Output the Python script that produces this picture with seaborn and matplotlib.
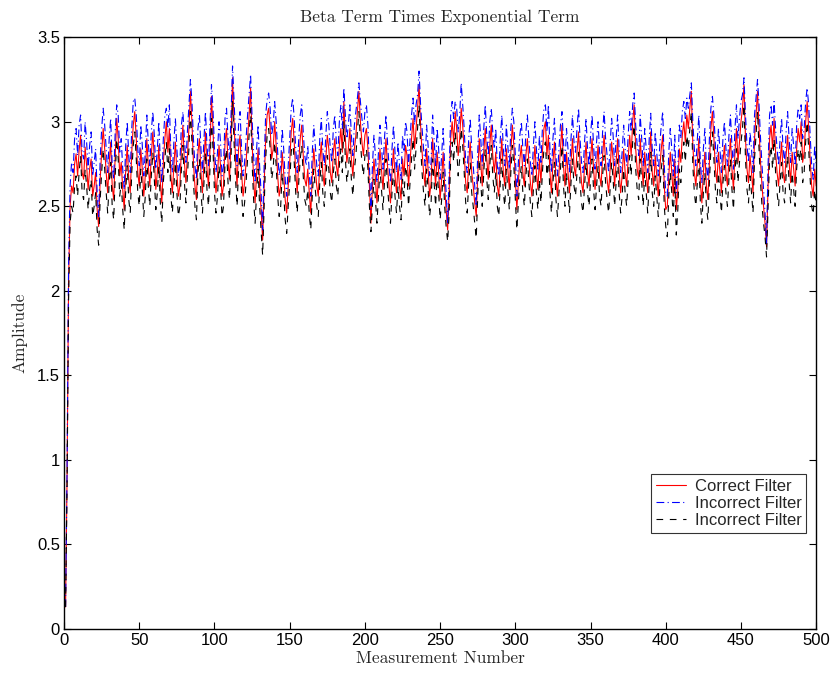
import numpy as np
import pandas as pd
import matplotlib
matplotlib.use("Agg")
import matplotlib.pyplot as plt
import seaborn as sns

# Valores (em centésimos), medição 1..500
correct_filter = [
    13, 90, 205, 250, 262, 258, 275, 281, 268, 283, 292, 270, 266, 285, 274, 260, 272, 278, 256, 262,
    270, 248, 238, 266, 282, 296, 284, 270, 258, 276, 288, 262, 254, 280, 302, 290, 268, 276, 260, 248,
    272, 286, 266, 258, 282, 298, 306, 290, 270, 262, 284, 272, 256, 268, 290, 274, 262, 280, 294, 278,
    260, 270, 286, 264, 252, 276, 290, 300, 282, 296, 268, 258, 274, 288, 270, 256, 262, 284, 298, 276,
    264, 280, 296, 318, 300, 276, 262, 254, 282, 290, 270, 258, 276, 294, 272, 262, 284, 315, 296, 270,
    258, 268, 286, 274, 256, 262, 288, 296, 276, 266, 290, 326, 300, 278, 262, 284, 292, 270, 256, 264,
    276, 290, 304, 320, 288, 266, 252, 270, 284, 262, 248, 230, 262, 290, 304, 308, 296, 278, 284, 300,
    286, 268, 256, 262, 282, 270, 254, 246, 262, 276, 294, 302, 288, 270, 258, 276, 290, 298, 280, 266,
    262, 272, 258, 246, 268, 284, 272, 262, 256, 276, 288, 270, 262, 278, 292, 284, 270, 264, 282, 290,
    274, 268, 286, 296, 282, 312, 290, 276, 284, 296, 278, 268, 284, 292, 306, 318, 300, 288, 280, 292,
    296, 284, 262, 240, 262, 278, 266, 252, 268, 284, 272, 260, 276, 290, 274, 262, 252, 270, 284, 268,
    258, 274, 262, 254, 278, 268, 286, 280, 262, 276, 290, 302, 284, 296, 308, 322, 298, 282, 270, 262,
    284, 272, 256, 264, 290, 276, 262, 282, 270, 254, 266, 282, 262, 248, 236, 258, 290, 300, 288, 306,
    296, 280, 290, 308, 298, 282, 264, 258, 276, 288, 270, 262, 252, 244, 268, 290, 276, 262, 282, 296,
    278, 266, 286, 298, 280, 270, 282, 262, 256, 276, 290, 270, 262, 284, 272, 260, 282, 298, 286, 266,
    248, 264, 278, 286, 270, 262, 280, 290, 276, 264, 256, 272, 286, 270, 260, 278, 264, 282, 296, 300,
    280, 292, 270, 258, 276, 288, 266, 256, 270, 284, 298, 274, 262, 282, 270, 258, 276, 290, 274, 268,
    282, 294, 276, 264, 258, 274, 288, 270, 262, 278, 290, 272, 260, 274, 286, 268, 262, 280, 292, 276,
    266, 258, 272, 288, 278, 262, 276, 290, 270, 258, 268, 284, 270, 262, 278, 292, 280, 300, 310, 284,
    272, 266, 290, 276, 262, 282, 270, 258, 276, 294, 270, 262, 280, 268, 256, 272, 284, 292, 262, 248,
    250, 268, 282, 270, 256, 278, 248, 260, 284, 276, 292, 300, 288, 304, 296, 308, 318, 286, 270, 262,
    276, 290, 264, 252, 270, 282, 262, 254, 276, 296, 306, 290, 272, 264, 282, 270, 258, 276, 286, 270,
    262, 278, 290, 272, 260, 282, 296, 276, 288, 300, 308, 322, 290, 272, 264, 280, 270, 258, 290, 304,
    318, 296, 276, 262, 250, 240, 226, 262, 290, 298, 284, 302, 282, 270, 262, 276, 288, 270, 264, 280,
    292, 276, 264, 282, 272, 262, 284, 296, 288, 300, 276, 282, 300, 312, 296, 278, 262, 256, 272, 262,
]

incorrect_blue = [
    13, 95, 215, 262, 276, 270, 290, 296, 280, 298, 304, 282, 278, 300, 288, 272, 286, 294, 268, 276,
    284, 258, 244, 278, 296, 308, 298, 284, 270, 290, 302, 274, 266, 294, 310, 304, 282, 290, 272, 260,
    286, 300, 280, 270, 296, 312, 314, 304, 284, 274, 298, 286, 268, 282, 304, 288, 274, 294, 306, 292,
    272, 284, 300, 276, 264, 290, 304, 308, 296, 310, 282, 270, 288, 302, 284, 268, 276, 298, 306, 290,
    276, 294, 310, 325, 312, 290, 274, 266, 296, 304, 284, 270, 290, 306, 286, 274, 298, 322, 308, 284,
    270, 282, 300, 288, 268, 274, 302, 308, 290, 278, 304, 333, 312, 292, 274, 298, 306, 284, 268, 276,
    290, 304, 316, 328, 302, 280, 264, 284, 298, 274, 258, 236, 274, 304, 313, 317, 308, 292, 298, 312,
    300, 282, 268, 274, 296, 284, 266, 256, 274, 290, 308, 314, 302, 284, 270, 290, 304, 310, 294, 280,
    274, 286, 270, 256, 282, 298, 286, 274, 268, 290, 302, 284, 274, 292, 306, 298, 284, 276, 296, 304,
    288, 280, 300, 310, 296, 320, 304, 290, 298, 310, 292, 280, 298, 306, 314, 323, 312, 302, 294, 306,
    310, 298, 274, 248, 274, 292, 280, 264, 282, 298, 286, 272, 290, 304, 288, 274, 264, 284, 298, 282,
    270, 288, 274, 266, 292, 282, 300, 294, 274, 290, 304, 314, 298, 310, 316, 330, 310, 296, 284, 274,
    298, 286, 268, 276, 304, 290, 274, 296, 284, 266, 280, 296, 274, 258, 240, 270, 304, 312, 302, 312,
    308, 294, 304, 323, 310, 296, 276, 270, 290, 302, 284, 274, 262, 250, 282, 304, 290, 274, 296, 310,
    292, 280, 300, 308, 294, 284, 296, 274, 268, 290, 304, 284, 274, 298, 286, 272, 296, 308, 300, 280,
    256, 276, 292, 300, 284, 274, 294, 304, 290, 276, 268, 286, 300, 284, 272, 292, 276, 296, 308, 310,
    294, 310, 284, 270, 290, 302, 280, 268, 284, 298, 306, 288, 274, 296, 284, 270, 290, 304, 288, 282,
    296, 308, 290, 276, 270, 288, 302, 284, 274, 292, 304, 286, 272, 288, 300, 282, 274, 294, 306, 290,
    280, 270, 286, 302, 292, 274, 290, 304, 284, 270, 282, 298, 284, 274, 292, 306, 294, 310, 317, 298,
    286, 280, 304, 290, 274, 296, 284, 270, 290, 305, 284, 274, 294, 282, 268, 286, 298, 306, 274, 258,
    256, 282, 296, 284, 268, 292, 258, 272, 298, 290, 306, 312, 302, 314, 308, 316, 323, 300, 284, 274,
    290, 304, 276, 264, 284, 296, 274, 266, 290, 308, 315, 304, 286, 276, 296, 284, 270, 290, 300, 284,
    274, 292, 304, 286, 272, 296, 310, 290, 302, 312, 316, 326, 304, 286, 276, 294, 284, 270, 304, 314,
    325, 310, 290, 274, 260, 246, 228, 274, 304, 310, 298, 312, 296, 284, 274, 290, 302, 284, 276, 294,
    306, 290, 276, 296, 286, 274, 298, 308, 302, 310, 290, 296, 312, 320, 310, 292, 274, 266, 286, 274,
]

incorrect_black = [
    13, 85, 195, 240, 250, 246, 262, 268, 256, 270, 280, 258, 254, 272, 262, 248, 260, 266, 244, 250,
    258, 236, 227, 254, 270, 284, 272, 258, 246, 264, 276, 250, 242, 268, 290, 278, 256, 264, 248, 236,
    260, 274, 254, 246, 270, 286, 294, 278, 258, 250, 272, 260, 244, 256, 278, 262, 250, 268, 282, 266,
    248, 258, 274, 252, 240, 264, 278, 288, 270, 284, 256, 246, 262, 276, 258, 244, 250, 272, 286, 264,
    252, 268, 284, 306, 288, 264, 250, 242, 270, 278, 258, 246, 264, 282, 260, 250, 272, 302, 284, 258,
    246, 256, 274, 262, 244, 250, 276, 284, 264, 254, 278, 312, 288, 266, 250, 272, 280, 258, 244, 252,
    264, 278, 292, 308, 276, 254, 240, 258, 272, 250, 236, 221, 250, 278, 292, 296, 284, 266, 272, 288,
    274, 256, 244, 250, 270, 258, 242, 234, 250, 264, 282, 290, 276, 258, 246, 264, 278, 286, 268, 254,
    250, 260, 246, 236, 256, 272, 260, 250, 244, 264, 276, 258, 250, 266, 280, 272, 258, 252, 270, 278,
    262, 256, 274, 284, 270, 300, 278, 264, 272, 284, 266, 256, 272, 280, 294, 306, 288, 276, 268, 280,
    284, 272, 250, 235, 250, 266, 254, 240, 256, 272, 260, 248, 264, 278, 262, 250, 240, 258, 272, 256,
    246, 262, 250, 242, 266, 256, 274, 268, 250, 264, 278, 290, 272, 284, 296, 310, 286, 270, 258, 250,
    272, 260, 244, 252, 278, 264, 250, 270, 258, 242, 254, 270, 250, 238, 229, 246, 278, 288, 276, 294,
    284, 268, 278, 296, 286, 270, 252, 246, 264, 276, 258, 250, 240, 231, 256, 278, 264, 250, 270, 284,
    266, 254, 274, 286, 268, 258, 270, 250, 244, 264, 278, 258, 250, 272, 260, 248, 270, 286, 274, 254,
    236, 252, 266, 274, 258, 250, 268, 278, 264, 252, 244, 260, 274, 258, 248, 266, 252, 270, 284, 288,
    268, 280, 258, 246, 264, 276, 254, 244, 258, 272, 286, 262, 250, 270, 258, 246, 264, 278, 262, 256,
    270, 282, 264, 252, 246, 262, 276, 258, 250, 266, 278, 260, 248, 262, 274, 256, 250, 268, 280, 264,
    254, 246, 260, 276, 266, 250, 264, 278, 258, 246, 256, 272, 258, 250, 266, 280, 268, 288, 298, 272,
    260, 254, 278, 264, 250, 270, 258, 246, 264, 282, 258, 250, 268, 256, 244, 260, 272, 280, 250, 238,
    232, 256, 270, 258, 244, 266, 233, 248, 272, 264, 280, 288, 276, 292, 284, 296, 306, 274, 258, 250,
    264, 278, 252, 240, 258, 270, 250, 242, 264, 284, 294, 278, 260, 252, 270, 258, 246, 264, 274, 258,
    250, 266, 278, 260, 248, 270, 284, 264, 276, 288, 296, 310, 278, 260, 252, 268, 258, 246, 278, 292,
    306, 284, 264, 250, 240, 232, 220, 250, 278, 286, 272, 290, 270, 258, 250, 264, 276, 258, 252, 268,
    280, 264, 252, 270, 260, 250, 272, 284, 276, 288, 264, 270, 288, 300, 284, 266, 250, 245, 260, 250,
]

labels = ["Correct Filter", "Incorrect Filter", "Incorrect Filter"]
x_ticks = [0, 50, 100, 150, 200, 250, 300, 350, 400, 450, 500]
y_ticks = [0, 0.5, 1, 1.5, 2, 2.5, 3, 3.5]
y_tick_labels = ["0", "0.5", "1", "1.5", "2", "2.5", "3", "3.5"]

measurement = np.arange(1, len(correct_filter) + 1)
df = pd.DataFrame({
    "Measurement": measurement,
    "correct": np.array(correct_filter) / 100,
    "blue": np.array(incorrect_blue) / 100,
    "black": np.array(incorrect_black) / 100,
})

sns.set_theme(style="ticks")
plt.rcParams["font.family"] = ["Liberation Sans", "DejaVu Sans"]

fig = plt.figure(figsize=(8.32, 6.77), dpi=100)
ax = fig.add_axes([0.077, 0.071, 0.904, 0.874])

sns.lineplot(data=df, x="Measurement", y="correct", color="red", lw=0.8,
             label=labels[0], ax=ax)
sns.lineplot(data=df, x="Measurement", y="blue", color="blue", lw=0.8,
             linestyle=(0, (7, 3, 1, 3)), label=labels[1], ax=ax)
sns.lineplot(data=df, x="Measurement", y="black", color="black", lw=0.8,
             linestyle=(0, (6, 6)), label=labels[2], ax=ax)

ax.set_xlim(0, 500)
ax.set_ylim(0, 3.5)
ax.set_xticks(x_ticks)
ax.set_yticks(y_ticks)
ax.set_yticklabels(y_tick_labels)
ax.tick_params(direction="in", top=True, right=True, length=5, width=0.8,
               labelsize=12, colors="black", pad=3)
for s in ax.spines.values():
    s.set_color("black")
    s.set_linewidth(1.0)

ax.set_title("Beta Term Times Exponential Term", family="cmr10", fontsize=12.5, pad=11)
ax.set_xlabel("Measurement Number", family="cmr10", fontsize=12.5, labelpad=2)
ax.set_ylabel("Amplitude", family="cmr10", fontsize=12.5, labelpad=7)

leg = ax.legend(loc="lower right", bbox_to_anchor=(0.987, 0.162), borderaxespad=0,
                fontsize=12, frameon=True, fancybox=False, handlelength=1.8,
                handletextpad=0.5, borderpad=0.3, labelspacing=0.12)
leg.get_frame().set_edgecolor("black")
leg.get_frame().set_linewidth(0.8)

plt.savefig("out.png", dpi=100)
